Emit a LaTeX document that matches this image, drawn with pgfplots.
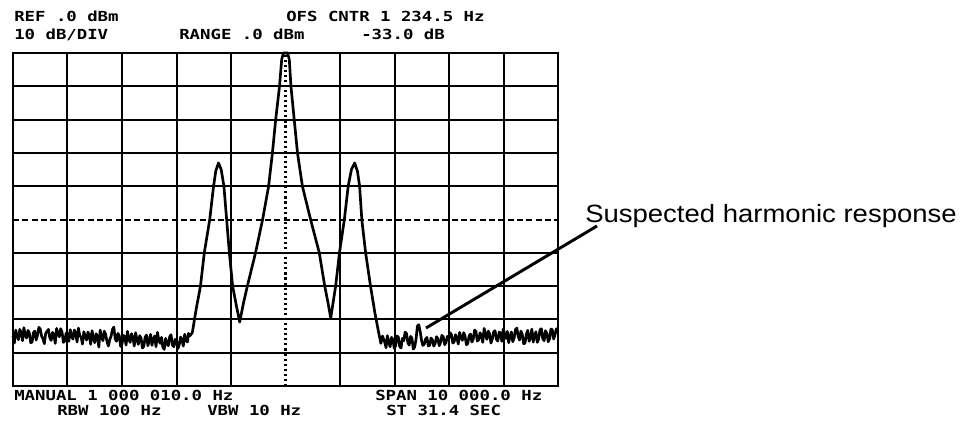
\documentclass[border=0pt]{standalone}
\usepackage{pgfplots}
\pgfplotsset{compat=1.18}
\usepackage{fontspec}
\setmainfont{Liberation Sans}
\newfontfamily\crt{DejaVu Sans Mono}
\newcommand{\crttext}[1]{\scalebox{1}[0.8]{\crt\bfseries\fontsize{13}{13}\selectfont #1}}

% trace of the analyser screen: x in divisions, y in dBm
\pgfplotstableread{
x y
0.000 -85.0
0.025 -87.1
0.050 -83.2
0.075 -84.9
0.100 -86.1
0.125 -83.0
0.150 -84.0
0.175 -86.4
0.200 -82.5
0.225 -84.8
0.250 -85.6
0.275 -83.3
0.300 -84.1
0.325 -87.0
0.350 -86.8
0.375 -84.0
0.400 -83.5
0.425 -86.2
0.450 -84.7
0.475 -82.4
0.500 -82.9
0.525 -85.0
0.550 -85.8
0.575 -87.3
0.600 -84.2
0.625 -83.6
0.650 -83.0
0.675 -85.5
0.700 -86.3
0.725 -83.9
0.750 -84.6
0.775 -87.2
0.800 -82.7
0.825 -84.4
0.850 -85.2
0.875 -82.8
0.900 -83.8
0.925 -86.9
0.950 -86.5
0.975 -84.1
1.000 -84.3
1.025 -86.6
1.050 -83.1
1.075 -85.0
1.100 -85.9
1.125 -83.2
1.150 -84.0
1.175 -86.8
1.200 -82.6
1.225 -84.9
1.250 -85.3
1.275 -87.4
1.300 -83.7
1.325 -85.1
1.350 -86.2
1.375 -83.8
1.400 -84.8
1.425 -87.5
1.450 -83.4
1.475 -85.6
1.500 -87.0
1.525 -84.3
1.550 -85.1
1.575 -88.3
1.600 -83.2
1.625 -85.4
1.650 -86.4
1.675 -83.5
1.700 -84.5
1.725 -86.7
1.750 -88.0
1.775 -86.1
1.800 -85.0
1.825 -83.0
1.850 -82.3
1.875 -85.8
1.900 -86.6
1.925 -84.2
1.950 -84.9
1.975 -88.1
2.000 -87.4
2.025 -84.8
2.050 -85.2
2.075 -87.7
2.100 -83.6
2.125 -85.9
2.150 -86.9
2.175 -84.3
2.200 -85.4
2.225 -88.0
2.250 -84.0
2.275 -86.2
2.300 -87.5
2.325 -84.9
2.350 -85.6
2.375 -88.6
2.400 -88.1
2.425 -85.3
2.450 -84.7
2.475 -87.9
2.500 -86.3
2.525 -84.5
2.550 -87.8
2.575 -85.9
2.600 -85.0
2.625 -88.2
2.650 -83.9
2.675 -86.1
2.700 -87.2
2.725 -85.4
2.750 -88.4
2.775 -89.0
2.800 -85.7
2.825 -87.3
2.850 -87.9
2.875 -85.2
2.900 -84.6
2.925 -87.7
2.950 -88.2
2.975 -86.0
3.000 -86.5
3.025 -88.8
3.050 -87.6
3.075 -85.3
3.100 -86.2
3.125 -88.0
3.150 -84.5
3.175 -86.3
3.200 -86.8
3.220 -84.2
3.240 -85.0
3.290 -84.0
3.360 -77.0
3.440 -70.0
3.510 -60.0
3.610 -50.0
3.680 -40.0
3.720 -35.5
3.770 -33.0
3.820 -35.0
3.870 -40.0
3.920 -50.0
3.970 -60.0
4.030 -70.0
4.100 -76.0
4.160 -80.8
4.230 -75.0
4.300 -70.0
4.450 -60.0
4.580 -50.0
4.690 -40.0
4.760 -30.0
4.820 -20.0
4.890 -10.0
4.930 -2.0
4.960 0.0
5.040 0.0
5.070 -2.0
5.100 -10.0
5.160 -20.0
5.220 -30.0
5.310 -40.0
5.460 -50.0
5.620 -60.0
5.720 -70.0
5.780 -75.0
5.830 -79.6
5.920 -70.0
5.990 -60.0
6.080 -50.0
6.150 -40.0
6.210 -35.0
6.270 -33.0
6.320 -35.5
6.360 -40.0
6.400 -50.0
6.470 -60.0
6.560 -70.0
6.640 -78.0
6.710 -84.0
6.750 -87.2
6.780 -85.0
6.820 -86.8
6.845 -88.5
6.870 -84.9
6.895 -86.9
6.920 -88.2
6.945 -85.4
6.970 -86.0
6.995 -88.7
7.020 -87.9
7.045 -85.0
7.070 -85.3
7.095 -88.1
7.120 -88.6
7.145 -85.7
7.170 -86.4
7.195 -83.8
7.220 -84.2
7.245 -87.0
7.270 -87.7
7.295 -85.1
7.320 -85.6
7.345 -88.9
7.370 -88.3
7.395 -86.0
7.420 -82.0
7.445 -81.6
7.470 -83.5
7.495 -86.2
7.520 -87.8
7.545 -87.5
7.570 -85.9
7.595 -85.4
7.620 -88.0
7.645 -87.8
7.670 -85.6
7.695 -86.1
7.720 -88.0
7.745 -87.3
7.770 -85.2
7.795 -85.7
7.820 -87.9
7.845 -86.9
7.870 -84.8
7.895 -85.2
7.920 -87.6
7.945 -87.0
7.970 -85.1
7.995 -85.8
8.020 -84.0
8.045 -84.6
8.070 -87.1
8.095 -86.7
8.120 -84.6
8.145 -85.5
8.170 -87.4
8.195 -83.9
8.220 -85.3
8.245 -86.3
8.270 -84.0
8.295 -85.1
8.320 -87.6
8.345 -87.2
8.370 -84.9
8.395 -84.4
8.420 -86.8
8.445 -85.9
8.470 -83.2
8.495 -83.6
8.520 -86.5
8.545 -86.1
8.570 -84.0
8.595 -84.8
8.620 -86.9
8.645 -82.7
8.670 -84.6
8.695 -86.0
8.720 -83.5
8.745 -84.3
8.770 -87.1
8.795 -85.9
8.820 -83.7
8.845 -83.4
8.870 -86.0
8.895 -86.5
8.920 -83.8
8.945 -84.1
8.970 -86.6
8.995 -82.9
9.020 -84.4
9.045 -85.7
9.070 -83.6
9.095 -87.0
9.120 -85.0
9.145 -83.8
9.170 -86.7
9.195 -85.6
9.220 -83.0
9.245 -82.6
9.270 -85.1
9.295 -86.2
9.320 -83.5
9.345 -84.5
9.370 -87.3
9.395 -87.1
9.420 -84.4
9.445 -83.3
9.470 -86.6
9.495 -85.4
9.520 -82.9
9.545 -86.8
9.570 -84.9
9.595 -83.7
9.620 -86.9
9.645 -85.9
9.670 -83.1
9.695 -82.8
9.720 -85.7
9.745 -86.4
9.770 -83.4
9.795 -84.2
9.820 -86.7
9.845 -85.8
9.870 -82.9
9.895 -83.1
9.920 -85.9
9.945 -84.6
9.970 -82.8
10.000 -83.9
}\trace

\begin{document}
\begin{tikzpicture}
\useasboundingbox (0,0) rectangle (723pt,-318.75pt);
\begin{axis}[
    at={(9.75pt,-289.5pt)}, anchor=south west,
    scale only axis, width=408.75pt, height=249.75pt,
    xmin=0, xmax=10, ymin=-100, ymax=0,
    xtick={1,2,3,4,6,7,8,9},
    ytick={-90,-80,-70,-60,-40,-30,-20,-10},
    xticklabels={}, yticklabels={},
    major tick length=0pt,
    grid=major,
    major grid style={black, line width=1.5pt},
    axis line style={black, line width=1.7pt},
    extra x ticks={5}, extra x tick labels={},
    extra x tick style={grid=major, major grid style={black, line width=1.6pt, dash pattern=on 1.6pt off 2.2pt}},
    extra y ticks={-50}, extra y tick labels={},
    extra y tick style={grid=major, major grid style={black, line width=1.5pt, dash pattern=on 4.5pt off 2.5pt}},
    clip=false,
]
\addplot [black, line width=2pt, line join=round] table {\trace};
\end{axis}
\begin{scope}[x=0.75pt, y=-0.75pt]
\draw [black, line width=2.2pt] (426,328) -- (597,226);
\node [anchor=base west, inner sep=0] at (585,222) {\scalebox{1.1}[1]{\fontsize{18.75}{20}\selectfont Suspected harmonic response}};
\node [anchor=base west, inner sep=0] at (14,21) {\crttext{REF .0 dBm}};
\node [anchor=base west, inner sep=0] at (286,21) {\crttext{OFS CNTR 1 234.5 Hz}};
\node [anchor=base west, inner sep=0] at (14,39) {\crttext{10 dB/DIV}};
\node [anchor=base west, inner sep=0] at (179,39) {\crttext{RANGE .0 dBm}};
\node [anchor=base west, inner sep=0] at (361,39) {\crttext{-33.0 dB}};
\node [anchor=base west, inner sep=0] at (14,400) {\crttext{MANUAL 1 000 010.0 Hz}};
\node [anchor=base west, inner sep=0] at (375,400) {\crttext{SPAN 10 000.0 Hz}};
\node [anchor=base west, inner sep=0] at (57,415) {\crttext{RBW 100 Hz}};
\node [anchor=base west, inner sep=0] at (207,415) {\crttext{VBW 10 Hz}};
\node [anchor=base west, inner sep=0] at (386,415) {\crttext{ST 31.4 SEC}};
\end{scope}
\end{tikzpicture}
\end{document}
